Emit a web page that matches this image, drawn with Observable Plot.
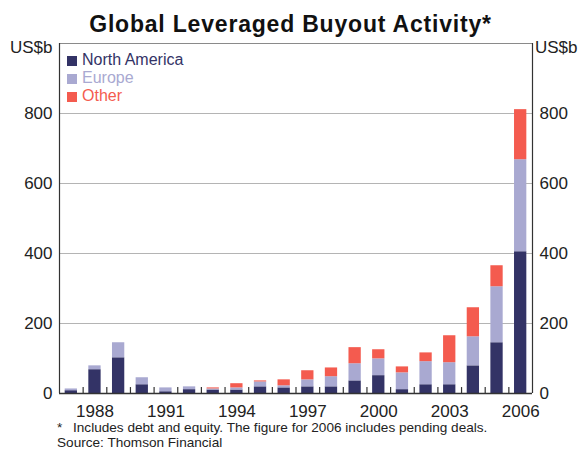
<!DOCTYPE html>
<html>
<head>
<meta charset="utf-8">
<script src="https://cdn.jsdelivr.net/npm/d3@7"></script>
<script src="https://cdn.jsdelivr.net/npm/@observablehq/plot@0.6"></script>
<style>
  html, body { margin: 0; padding: 0; background: #fff; }
  body { font-family: "Liberation Sans", Arial, sans-serif; }
  #wrap { position: relative; width: 581px; height: 451px; overflow: hidden; }
  #chart { position: absolute; left: 0; top: 0; }
  .ov { position: absolute; white-space: nowrap; line-height: 1; }
  #title { left: 0; width: 581px; text-align: center; top: 13px; font-size: 23px; font-weight: bold; color: #111; letter-spacing: 0.8px; }
  .unit { top: 39px; font-size: 17px; color: #222; }
  .leg { font-size: 16px; left: 82px; }
  .sw { position: absolute; width: 10px; height: 10px; left: 67px; }
  .foot { font-size: 13.6px; color: #222; }
</style>
</head>
<body>
<div id="wrap">
  <div id="chart"></div>
</div>
<script>
const years = [1987,1988,1989,1990,1991,1992,1993,1994,1995,1996,1997,1998,1999,2000,2001,2002,2003,2004,2005,2006];
const northAmerica = [8,68,102,25,5,11,10,10,19,16,19,19,36,51,11,25,25,79,145,405];
const europe = [5,11,43,20,11,8,3,6,14,6,20,29,49,48,48,66,63,83,160,263];
const other = [0,0,0,0,0,0,3,12,3,17,26,25,46,26,17,25,77,83,60,143];
const seriesNames = ["North America", "Europe", "Other"];
const seriesColors = ["#333366", "#a9a9d1", "#f45b4f"];
const yTicks = [0, 200, 400, 600, 800];
const xTickLabels = [1988, 1991, 1994, 1997, 2000, 2003, 2006];
const title = "Global Leveraged Buyout Activity*";
const unitLabel = "US$b";
const footnote = "Includes debt and equity. The figure for 2006 includes pending deals.";
const source = "Source: Thomson Financial";

// stacked table
const seriesValues = [northAmerica, europe, other];
const rows = [];
years.forEach((yr, i) => {
  let base = 0;
  seriesValues.forEach((vals, s) => {
    const v = vals[i];
    if (v > 0) rows.push({year: yr, series: seriesNames[s], y1: base, y2: base + v});
    base += v;
  });
});
const boundaries = years.slice(0, -1).map(y => y + 0.5);

const chart = Plot.plot({
  width: 581,
  height: 451,
  marginTop: 43,
  marginBottom: 58,
  marginLeft: 59,
  marginRight: 49,
  style: {fontFamily: "'Liberation Sans', Arial, sans-serif", fontSize: "17px", color: "#222", background: "transparent"},
  x: {domain: [years[0] - 0.5, years[years.length - 1] + 0.5]},
  y: {domain: [0, 1000]},
  color: {domain: seriesNames, range: seriesColors},
  marks: [
    Plot.ruleY(yTicks.filter(d => d > 0), {stroke: "#b4b4b4", strokeWidth: 1}),
    Plot.rect(rows, {x1: d => d.year - 0.26, x2: d => d.year + 0.26, y1: "y1", y2: "y2", fill: "series"}),
    Plot.ruleY([1000], {stroke: "#8a8a8a", strokeWidth: 1.2}),
    Plot.ruleX(boundaries, {y1: d => 0, y2: d => 17, stroke: "#333", strokeWidth: 1.2}),
    Plot.ruleX([years[0] - 0.5, years[years.length - 1] + 0.5], {stroke: "#333", strokeWidth: 1.2}),
    Plot.ruleY([0], {stroke: "#333", strokeWidth: 1.5}),
    Plot.axisY({anchor: "left", ticks: yTicks, tickSize: 0, tickPadding: 7, label: null}),
    Plot.axisY({anchor: "right", ticks: yTicks, tickSize: 0, tickPadding: 7, label: null}),
    Plot.axisX({ticks: xTickLabels, tickFormat: d => String(d), tickSize: 0, tickPadding: 11, label: null})
  ]
});
document.getElementById("chart").appendChild(chart);

const wrap = document.getElementById("wrap");
function addDiv(cls, id, text, styles) {
  const d = document.createElement("div");
  d.className = "ov " + cls;
  if (id) d.id = id;
  d.textContent = text;
  Object.assign(d.style, styles || {});
  wrap.appendChild(d);
  return d;
}
addDiv("", "title", title);
addDiv("unit", null, unitLabel, {left: "10px"});
addDiv("unit", null, unitLabel, {left: "535px"});
const legTops = [52, 70, 88];
seriesNames.forEach((name, i) => {
  addDiv("leg", null, name, {top: legTops[i] + "px", color: seriesColors[i]});
  const sw = document.createElement("div");
  sw.className = "sw";
  sw.style.top = (legTops[i] + 4) + "px";
  sw.style.background = seriesColors[i];
  wrap.appendChild(sw);
});
addDiv("foot", null, "*", {left: "57px", top: "421px"});
addDiv("foot", null, footnote, {left: "73px", top: "421px"});
addDiv("foot", null, source, {left: "57px", top: "436px"});
</script>
</body>
</html>
